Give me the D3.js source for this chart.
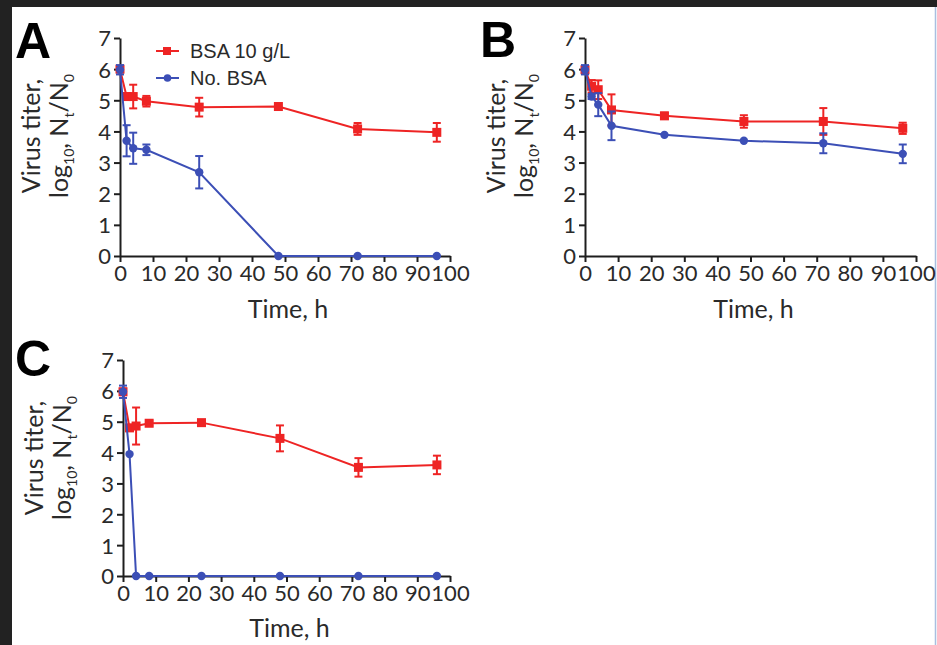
<!DOCTYPE html>
<html>
<head>
<meta charset="utf-8">
<script src="https://cdn.jsdelivr.net/npm/d3@7"></script>
<style>
  html, body { margin: 0; padding: 0; background: #222222; }
  svg { display: block; }
</style>
</head>
<body>
<script>
// Sampling times (h)
const times = [0, 2, 4, 8, 24, 48, 72, 96];
const xTicks = [0, 10, 20, 30, 40, 50, 60, 70, 80, 90, 100];
const yTicks = [0, 1, 2, 3, 4, 5, 6, 7];

// Panel A
const bsaA     = [6.0, 5.12, 5.12, 4.97, 4.78, 4.80, 4.08, 3.97];
const bsaAErr  = [0.1, 0.1, 0.38, 0.17, 0.3, 0.05, 0.19, 0.3];
const noBsaA   = [5.98, 3.70, 3.46, 3.41, 2.69, 0, 0, 0];
const noBsaAErr= [0.15, 0.5, 0.5, 0.17, 0.52, 0, 0, 0];

// Panel B
const bsaB     = [5.98, 5.45, 5.34, 4.69, 4.50, 4.32, 4.32, 4.10];
const bsaBErr  = [0.1, 0.2, 0.3, 0.5, 0.1, 0.2, 0.43, 0.18];
const noBsaB   = [5.98, 5.12, 4.86, 4.18, 3.89, 3.70, 3.62, 3.28];
const noBsaBErr= [0.15, 0.08, 0.37, 0.46, 0.05, 0.05, 0.32, 0.3];

// Panel C
const bsaC     = [5.97, 4.80, 4.86, 4.95, 4.97, 4.46, 3.52, 3.60];
const bsaCErr  = [0.1, 0.1, 0.6, 0.08, 0.06, 0.42, 0.3, 0.3];
const noBsaC   = [5.97, 3.95, 0, 0, 0, 0, 0, 0];
const noBsaCErr= [0.2, 0.05, 0, 0, 0, 0, 0, 0];

const seriesNames = ["BSA 10 g/L", "No. BSA"];
const panelLetters = ["A", "B", "C"];

const RED = "#ee2424";
const BLUE = "#3c4fb6";
const INK = "#1e1e1e";
const TICK_FONT = "Lato, 'Open Sans', sans-serif";

const W = 937, H = 645;
const svg = d3.select("body").append("svg").attr("width", W).attr("height", H);

// page background with dark frame on top/left
svg.append("rect").attr("x", 0).attr("y", 0).attr("width", W).attr("height", H).attr("fill", "#222222");
svg.append("rect").attr("x", 12).attr("y", 7).attr("width", W - 12).attr("height", H - 7).attr("fill", "#ffffff");
svg.append("line").attr("x1", 935.5).attr("x2", 935.5).attr("y1", 7).attr("y2", H)
  .attr("stroke", "#a9bfe0").attr("stroke-width", 1.5);

const panels = [
  { letter: panelLetters[0], left: 120, right: 450, top: 38, bottom: 256, letterX: 15, letterY: 58,
    labelY: 136, titleY: 318, red: bsaA, redErr: bsaAErr, blue: noBsaA, blueErr: noBsaAErr, legend: true },
  { letter: panelLetters[1], left: 585, right: 916, top: 38, bottom: 256, letterX: 480, letterY: 57,
    labelY: 136, titleY: 318, red: bsaB, redErr: bsaBErr, blue: noBsaB, blueErr: noBsaBErr, legend: false },
  { letter: panelLetters[2], left: 123, right: 450, top: 360, bottom: 576, letterX: 15, letterY: 376,
    labelY: 458, titleY: 637, red: bsaC, redErr: bsaCErr, blue: noBsaC, blueErr: noBsaCErr, legend: false }
];

panels.forEach(p => {
  const g = svg.append("g");
  const x = d3.scaleLinear().domain([0, 100]).range([p.left, p.right]);
  const y = d3.scaleLinear().domain([0, 7]).range([p.bottom, p.top]);

  // axes
  const xAxis = g.append("g").attr("transform", `translate(0,${p.bottom})`)
    .call(d3.axisBottom(x).tickValues(xTicks).tickFormat(d3.format("d"))
      .tickSize(6).tickSizeOuter(0).tickPadding(3));
  const yAxis = g.append("g").attr("transform", `translate(${p.left},0)`)
    .call(d3.axisLeft(y).tickValues(yTicks).tickFormat(d3.format("d"))
      .tickSize(6).tickSizeOuter(0).tickPadding(3));
  [xAxis, yAxis].forEach(a => {
    a.select(".domain").attr("stroke", INK).attr("stroke-width", 2);
    a.selectAll(".tick line").attr("stroke", INK).attr("stroke-width", 2);
    a.selectAll(".tick text").attr("fill", "#2a2a2a")
      .style("font-family", TICK_FONT).style("font-size", "22px");
  });
  xAxis.selectAll(".tick text").attr("dy", "0.74em");
  yAxis.selectAll(".tick text").attr("dy", "0.36em");

  // panel letter
  g.append("text").attr("x", p.letterX).attr("y", p.letterY).text(p.letter)
    .style("font-family", "'Liberation Sans', Arial, sans-serif").style("font-weight", "bold")
    .style("font-size", "50px").attr("fill", "#000");

  // x title
  g.append("text").attr("x", (p.left + p.right) / 2 + 3).attr("y", p.titleY)
    .attr("text-anchor", "middle").text("Time, h")
    .style("font-family", TICK_FONT).style("font-size", "25px").attr("fill", "#2a2a2a");

  // y title, two rotated lines
  const yt = g.append("g").attr("transform", `translate(${p.left - 80},${p.labelY}) rotate(-90)`);
  yt.append("text").attr("x", 0).attr("y", 0).attr("text-anchor", "middle")
    .text("Virus titer,").style("font-family", TICK_FONT).style("font-size", "25px").attr("fill", "#2a2a2a");
  const t2 = yt.append("text").attr("x", 0).attr("y", 28).attr("text-anchor", "middle")
    .style("font-family", TICK_FONT).style("font-size", "25px").attr("fill", "#2a2a2a");
  t2.append("tspan").text("log");
  t2.append("tspan").text("10").attr("dy", 6).style("font-size", "14px");
  t2.append("tspan").text(", N").attr("dy", -6);
  t2.append("tspan").text("t").attr("dy", 6).style("font-size", "14px");
  t2.append("tspan").text("/N").attr("dy", -6);
  t2.append("tspan").text("0").attr("dy", 6).style("font-size", "14px");

  const line = d3.line().x(d => x(d.t)).y(d => y(d.v));

  function drawSeries(vals, errs, color, shape) {
    const pts = times.map((t, i) => ({ t, v: vals[i], e: errs[i] }));
    const sg = g.append("g");
    sg.append("path").datum(pts).attr("d", line).attr("fill", "none")
      .attr("stroke", color).attr("stroke-width", 2);
    // error bars
    pts.filter(d => d.e > 0.06).forEach(d => {
      sg.append("line").attr("x1", x(d.t)).attr("x2", x(d.t))
        .attr("y1", y(d.v - d.e)).attr("y2", y(d.v + d.e))
        .attr("stroke", color).attr("stroke-width", 2);
      [d.v - d.e, d.v + d.e].forEach(v => {
        sg.append("line").attr("x1", x(d.t) - 4).attr("x2", x(d.t) + 4)
          .attr("y1", y(v)).attr("y2", y(v)).attr("stroke", color).attr("stroke-width", 2);
      });
    });
    if (shape === "square") {
      sg.selectAll("rect.m").data(pts).enter().append("rect")
        .attr("x", d => x(d.t) - 4.5).attr("y", d => y(d.v) - 4.5)
        .attr("width", 9).attr("height", 9).attr("fill", color);
    } else {
      sg.selectAll("circle.m").data(pts).enter().append("circle")
        .attr("cx", d => x(d.t)).attr("cy", d => y(d.v)).attr("r", 4.2).attr("fill", color);
    }
  }
  drawSeries(p.red, p.redErr, RED, "square");
  drawSeries(p.blue, p.blueErr, BLUE, "circle");

  if (p.legend) {
    const lg = g.append("g");
    const items = [
      { name: seriesNames[0], color: RED, shape: "square", y: 51 },
      { name: seriesNames[1], color: BLUE, shape: "circle", y: 78 }
    ];
    items.forEach(it => {
      lg.append("line").attr("x1", 156).attr("x2", 179).attr("y1", it.y).attr("y2", it.y)
        .attr("stroke", it.color).attr("stroke-width", 2);
      if (it.shape === "square") {
        lg.append("rect").attr("x", 163).attr("y", it.y - 4).attr("width", 8).attr("height", 8).attr("fill", it.color);
      } else {
        lg.append("circle").attr("cx", 167.5).attr("cy", it.y).attr("r", 3.8).attr("fill", it.color);
      }
      lg.append("text").attr("x", 190).attr("y", it.y + 7).text(it.name)
        .style("font-family", "'Liberation Sans', Arial, sans-serif").style("font-size", "20px")
        .attr("fill", "#2a2a2a");
    });
  }
});
</script>
</body>
</html>
